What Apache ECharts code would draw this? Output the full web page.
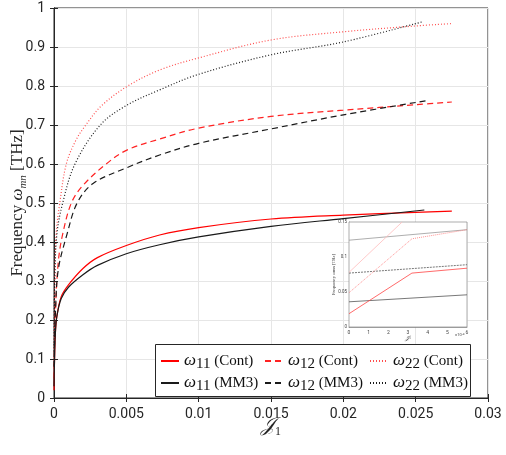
<!DOCTYPE html>
<html>
<head>
<meta charset="utf-8">
<script src="https://cdn.jsdelivr.net/npm/echarts@6/dist/echarts.min.js"></script>
<style>
  html, body { margin: 0; padding: 0; background: #fff; }
  #chart { width: 506px; height: 455px; }
</style>
</head>
<body>
<div id="chart"></div>
<script>
// main plot data: [J1, frequency THz]
const w11Cont = [[0, 0.02], [0.00005, 0.12], [0.0001, 0.17], [0.0002, 0.21], [0.0005, 0.26], [0.001, 0.29], [0.002, 0.332], [0.003, 0.36], [0.005, 0.391], [0.0073, 0.418], [0.01, 0.437], [0.015, 0.459], [0.02, 0.469], [0.025, 0.476], [0.0275, 0.479]];
const w11MM3 = [[0, 0.03], [0.00005, 0.12], [0.0001, 0.17], [0.0002, 0.21], [0.0005, 0.255], [0.001, 0.284], [0.002, 0.316], [0.003, 0.34], [0.005, 0.37], [0.0073, 0.393], [0.01, 0.413], [0.015, 0.44], [0.02, 0.46], [0.0256, 0.482]];
const w12Cont = [[0, 0.05], [0.0001, 0.22], [0.0003, 0.35], [0.0006, 0.42], [0.0012, 0.5], [0.002, 0.545], [0.0036, 0.6], [0.005, 0.635], [0.0073, 0.664], [0.01, 0.692], [0.015, 0.722], [0.02, 0.738], [0.025, 0.752], [0.0275, 0.759]];
const w12MM3 = [[0, 0.08], [0.0001, 0.22], [0.0003, 0.33], [0.0009, 0.42], [0.0016, 0.5], [0.0027, 0.55], [0.005, 0.59], [0.0073, 0.623], [0.01, 0.653], [0.015, 0.69], [0.02, 0.726], [0.0257, 0.762]];
const w22Cont = [[0, 0.08], [0.00005, 0.3], [0.00015, 0.42], [0.0004, 0.5], [0.00085, 0.6], [0.0015, 0.66], [0.0022, 0.7], [0.0033, 0.75], [0.0051, 0.8], [0.0073, 0.841], [0.01, 0.872], [0.015, 0.918], [0.02, 0.939], [0.025, 0.954], [0.0275, 0.96]];
const w22MM3 = [[0, 0.12], [0.00005, 0.3], [0.0002, 0.42], [0.0006, 0.5], [0.00145, 0.6], [0.0032, 0.7], [0.005, 0.75], [0.0073, 0.79], [0.01, 0.83], [0.015, 0.88], [0.02, 0.913], [0.0255, 0.965]];

// inset data: [J1 (x1e-4), frequency THz]
const in11Cont = [[0, 0.019], [3.2, 0.077], [6, 0.084]];
const in12Cont = [[0, 0.049], [3.2, 0.126], [6, 0.139]];
const in22Cont = [[0, 0.078], [2.7, 0.15]];
const in11MM3 = [[0, 0.036], [6, 0.046]];
const in12MM3 = [[0, 0.077], [6, 0.089]];
const in22MM3 = [[0, 0.124], [6, 0.139]];

// legend entries: series name, subscript, model
const legendNames = ['w11c', 'w12c', 'w22c', 'w11m', 'w12m', 'w22m'];
const legendSubs = ['11', '12', '22', '11', '12', '22'];
const legendModels = ['Cont', 'Cont', 'Cont', 'MM3', 'MM3', 'MM3'];

const axisColor = '#262626';
const gridColor = '#e6e6e6';
const serif = '"Liberation Serif", "DejaVu Serif", serif';
const sans = 'Roboto, "Liberation Sans", sans-serif';

const chart = echarts.init(document.getElementById('chart'));

function mainLine(name, data, color, type) {
  return {
    name: name, type: 'line', data: data, smooth: 0.35,
    showSymbol: false, symbol: 'none',
    xAxisIndex: 0, yAxisIndex: 0,
    lineStyle: { color: color, width: 1.2, type: type },
    itemStyle: { color: color }, z: 3
  };
}
function insetLine(data, color, type) {
  return {
    name: 'inset', type: 'line', data: data, showSymbol: false, symbol: 'none',
    xAxisIndex: 2, yAxisIndex: 2, silent: true,
    lineStyle: { color: color, width: 0.8, type: type }, z: 6
  };
}

const fmt = v => String(+v.toFixed(3));

// one legend per entry so the columns line up like the original
const colX = [160, 264, 369];
const rowY = [350, 372];
const legends = legendNames.map((name, i) => ({
  data: [name],
  left: colX[i % 3], top: rowY[Math.floor(i / 3)],
  padding: 0, itemGap: 0, itemWidth: 18, itemHeight: 10,
  selectedMode: false,
  itemStyle: { color: 'rgba(0,0,0,0)', borderColor: 'rgba(0,0,0,0)', borderWidth: 0 },
  formatter: () => '{w|ω}{s|' + legendSubs[i] + '}{t| (' + legendModels[i] + ')}',
  textStyle: {
    lineHeight: 22,
    rich: {
      w: { fontFamily: serif, fontSize: 17, fontStyle: 'italic', color: '#111', lineHeight: 22, verticalAlign: 'middle' },
      s: { fontFamily: serif, fontSize: 15, color: '#111', lineHeight: 22, verticalAlign: 'bottom' },
      t: { fontFamily: serif, fontSize: 15, color: '#111', lineHeight: 22, verticalAlign: 'middle' }
    }
  },
  z: 10
}));

chart.setOption({
  animation: false,
  grid: [
    { left: 54, top: 8, right: 18, bottom: 57, outerBoundsMode: 'none', show: true, borderColor: axisColor, borderWidth: 1 },
    { left: 349, top: 222, width: 118, height: 105, outerBoundsMode: 'none', show: true, backgroundColor: '#fff', borderColor: '#777', borderWidth: 0.6, z: 5 }
  ],
  xAxis: [
    {
      type: 'value', gridIndex: 0, min: 0, max: 0.03, interval: 0.005,
      name: '{j|𝒥}{s|1}', nameLocation: 'middle', nameGap: 16, nameMoveOverlap: false,
      nameTextStyle: { rich: { j: { fontFamily: serif, fontSize: 20, fontStyle: 'italic', color: axisColor, lineHeight: 24, verticalAlign: 'middle' },
                               s: { fontFamily: serif, fontSize: 12, color: axisColor, lineHeight: 24, verticalAlign: 'bottom' } } },
      axisLine: { show: true, lineStyle: { color: axisColor } },
      axisTick: { show: true, inside: true, length: 4, lineStyle: { color: axisColor } },
      axisLabel: { fontFamily: sans, fontSize: 14, color: axisColor, margin: 9, formatter: fmt },
      splitLine: { show: true, lineStyle: { color: gridColor } }
    },
    {
      type: 'value', gridIndex: 0, position: 'top', min: 0, max: 0.03, interval: 0.005,
      axisLine: { show: true, lineStyle: { color: axisColor } },
      axisTick: { show: true, inside: true, length: 4, lineStyle: { color: axisColor } },
      axisLabel: { show: false }, splitLine: { show: false }
    },
    {
      type: 'value', gridIndex: 1, min: 0, max: 6, interval: 1,
      name: '{j|𝒥}{s|1}', nameLocation: 'middle', nameGap: 8, nameMoveOverlap: false,
      nameTextStyle: { rich: { j: { fontFamily: serif, fontSize: 6, fontStyle: 'italic', color: '#444' }, s: { fontFamily: serif, fontSize: 4, color: '#444' } } },
      axisLine: { show: true, lineStyle: { color: '#777', width: 0.6 } },
      axisTick: { show: false },
      axisLabel: { fontFamily: sans, fontSize: 5, color: '#444', margin: 3 },
      splitLine: { show: true, lineStyle: { color: '#eee', width: 0.6 } }
    }
  ],
  yAxis: [
    {
      type: 'value', gridIndex: 0, min: 0, max: 1, interval: 0.1,
      name: '{t|Frequency }{w|ω}{s|mn}{t| [THz]}', nameLocation: 'middle', nameGap: 25, nameMoveOverlap: false,
      nameTextStyle: { rich: {
        t: { fontFamily: serif, fontSize: 17, color: axisColor, lineHeight: 22, verticalAlign: 'middle' },
        w: { fontFamily: serif, fontSize: 17, fontStyle: 'italic', color: axisColor, lineHeight: 22, verticalAlign: 'middle' },
        s: { fontFamily: serif, fontSize: 11, fontStyle: 'italic', color: axisColor, lineHeight: 22, verticalAlign: 'bottom' } } },
      axisLine: { show: true, lineStyle: { color: axisColor } },
      axisTick: { show: true, inside: true, length: 4, lineStyle: { color: axisColor } },
      axisLabel: { fontFamily: sans, fontSize: 14, color: axisColor, margin: 9, formatter: fmt },
      splitLine: { show: true, lineStyle: { color: gridColor } }
    },
    {
      type: 'value', gridIndex: 0, position: 'right', min: 0, max: 1, interval: 0.1,
      axisLine: { show: true, lineStyle: { color: axisColor } },
      axisTick: { show: true, inside: true, length: 4, lineStyle: { color: axisColor } },
      axisLabel: { show: false }, splitLine: { show: false }
    },
    {
      type: 'value', gridIndex: 1, min: 0, max: 0.15, interval: 0.05,
      name: 'Frequency ωmn [THz]', nameLocation: 'middle', nameGap: 13, nameMoveOverlap: false,
      nameTextStyle: { fontFamily: serif, fontSize: 4.5, color: '#444' },
      axisLine: { show: true, lineStyle: { color: '#777', width: 0.6 } },
      axisTick: { show: false },
      axisLabel: { fontFamily: sans, fontSize: 4.5, color: '#444', margin: 2, formatter: fmt },
      splitLine: { show: true, lineStyle: { color: '#eee', width: 0.6 } }
    }
  ],
  legend: legends,
  graphic: [
    { type: 'rect', z: 8, silent: true,
      shape: { x: 155.5, y: 344.5, width: 315, height: 52 },
      style: { fill: '#fff', stroke: axisColor, lineWidth: 1 } },
    { type: 'text', left: 455, top: 333, z: 20, silent: true,
      style: { text: '×10⁻⁴', font: '4px ' + sans, fill: '#444' } }
  ],
  series: [
    mainLine('w11c', w11Cont, '#ff0000', 'solid'),
    mainLine('w12c', w12Cont, '#ff2222', [6, 4]),
    mainLine('w22c', w22Cont, '#ff4d4d', [1, 2]),
    mainLine('w11m', w11MM3, '#1a1a1a', 'solid'),
    mainLine('w12m', w12MM3, '#1a1a1a', [6, 4]),
    mainLine('w22m', w22MM3, '#1a1a1a', [1, 2]),
    insetLine(in22MM3, '#999999', 'solid'),
    insetLine(in11MM3, '#555555', 'solid'),
    insetLine(in12MM3, '#555555', [2, 1]),
    insetLine(in22Cont, '#ffbbbb', 'solid'),
    insetLine(in12Cont, '#ff7777', [1, 1]),
    insetLine(in11Cont, '#ff4444', 'solid')
  ]
});
</script>
</body>
</html>
